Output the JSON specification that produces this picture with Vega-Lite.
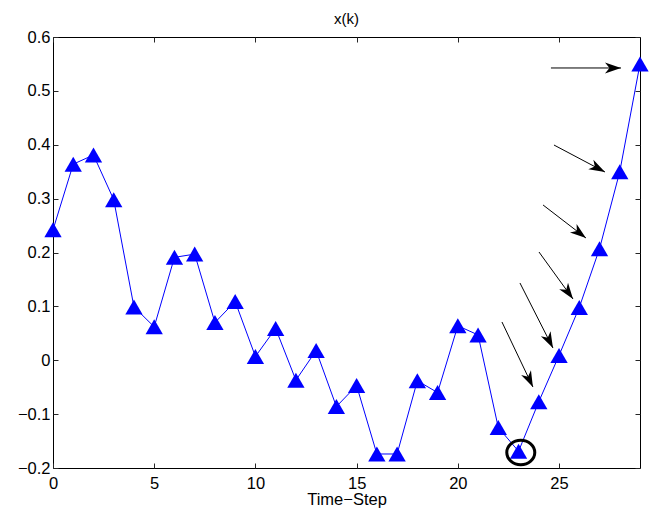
{
  "$schema": "https://vega.github.io/schema/vega-lite/v6.json",
  "width": 587,
  "height": 431,
  "autosize": "none",
  "padding": {"left": 53, "top": 37, "right": 12, "bottom": 46},
  "background": "white",
  "config": {
    "view": {"stroke": "black", "strokeWidth": 1},
    "font": "Liberation Sans",
    "axis": {
      "grid": false,
      "domain": false,
      "tickSize": -5,
      "tickColor": "#262626",
      "tickWidth": 1,
      "labelFont": "Liberation Sans",
      "labelFontSize": 16.5,
      "labelColor": "black",
      "labelFlush": false,
      "titleFont": "Liberation Sans",
      "titleFontSize": 16.5,
      "titleFontWeight": "normal",
      "titleColor": "black"
    }
  },
  "title": {"text": "x(k)", "fontSize": 15, "fontWeight": "normal", "font": "Liberation Sans", "color": "black", "offset": 2},
  "datasets": {
    "series": [
      {"k": 0, "x": 0.242}, {"k": 1, "x": 0.364}, {"k": 2, "x": 0.381}, {"k": 3, "x": 0.298},
      {"k": 4, "x": 0.099}, {"k": 5, "x": 0.062}, {"k": 6, "x": 0.191}, {"k": 7, "x": 0.197},
      {"k": 8, "x": 0.070}, {"k": 9, "x": 0.109}, {"k": 10, "x": 0.007}, {"k": 11, "x": 0.059},
      {"k": 12, "x": -0.037}, {"k": 13, "x": 0.018}, {"k": 14, "x": -0.086}, {"k": 15, "x": -0.047},
      {"k": 16, "x": -0.174}, {"k": 17, "x": -0.174}, {"k": 18, "x": -0.038}, {"k": 19, "x": -0.060},
      {"k": 20, "x": 0.064}, {"k": 21, "x": 0.047}, {"k": 22, "x": -0.125}, {"k": 23, "x": -0.169},
      {"k": 24, "x": -0.077}, {"k": 25, "x": 0.009}, {"k": 26, "x": 0.098}, {"k": 27, "x": 0.207},
      {"k": 28, "x": 0.350}, {"k": 29, "x": 0.550}
    ],
    "arrows": [
      {"x1": 24.60, "y1": 0.5425, "x2": 28.06, "y2": 0.5425},
      {"x1": 24.75, "y1": 0.3995, "x2": 27.27, "y2": 0.3494},
      {"x1": 24.21, "y1": 0.2882, "x2": 26.33, "y2": 0.2269},
      {"x1": 24.01, "y1": 0.2009, "x2": 25.69, "y2": 0.1137},
      {"x1": 23.07, "y1": 0.1434, "x2": 24.70, "y2": 0.0227},
      {"x1": 22.18, "y1": 0.0710, "x2": 23.71, "y2": -0.0497}
    ],
    "highlight": [{"k": 23.11, "x": -0.1712}]
  },
  "layer": [
    {
      "data": {"name": "series"},
      "mark": {"type": "line", "color": "#0000ff", "strokeWidth": 1},
      "encoding": {
        "x": {
          "field": "k", "type": "quantitative",
          "scale": {"domain": [0, 29], "nice": false, "zero": false},
          "axis": {"orient": "bottom", "values": [0, 5, 10, 15, 20, 25], "labelPadding": 12, "title": "Time−Step", "titlePadding": 0}
        },
        "y": {
          "field": "x", "type": "quantitative",
          "scale": {"domain": [-0.2, 0.6], "nice": false, "zero": false},
          "axis": {"orient": "left", "values": [-0.2, -0.1, 0, 0.1, 0.2, 0.3, 0.4, 0.5, 0.6], "labelPadding": 8, "title": null,
                   "labelExpr": "datum.value == 0 ? '0' : format(datum.value, '.1f')"}
        }
      }
    },
    {
      "data": {"name": "series"},
      "mark": {"type": "point", "shape": "triangle-up", "filled": true, "color": "#0000ff", "opacity": 1, "size": 300},
      "encoding": {
        "x": {"field": "k", "type": "quantitative",
              "axis": {"orient": "top", "values": [0, 5, 10, 15, 20, 25], "labels": false, "title": null}},
        "y": {"field": "x", "type": "quantitative",
              "axis": {"orient": "right", "values": [-0.2, -0.1, 0, 0.1, 0.2, 0.3, 0.4, 0.5, 0.6], "labels": false, "title": null}}
      }
    },
    {
      "data": {"name": "arrows"},
      "mark": {"type": "rule", "color": "black", "strokeWidth": 1},
      "encoding": {
        "x": {"field": "x1", "type": "quantitative", "axis": null},
        "y": {"field": "y1", "type": "quantitative", "axis": null},
        "x2": {"field": "x2"},
        "y2": {"field": "y2"}
      }
    },
    {
      "data": {"name": "arrows"},
      "transform": [
        {"calculate": "atan2(-(datum.y2 - datum.y1) * 431 / 0.8, (datum.x2 - datum.x1) * 587 / 29) * 180 / PI", "as": "dir"}
      ],
      "mark": {"type": "point", "shape": "M0,0 L-1,-0.34 L-0.72,0 L-1,0.34 Z", "filled": true, "color": "black", "opacity": 1, "size": 1024},
      "encoding": {
        "x": {"field": "x2", "type": "quantitative", "axis": null},
        "y": {"field": "y2", "type": "quantitative", "axis": null},
        "angle": {"field": "dir", "type": "quantitative", "scale": null}
      }
    },
    {
      "data": {"name": "highlight"},
      "mark": {"type": "point", "shape": "M-1,0 A1,0.87 0 1,0 1,0 A1,0.87 0 1,0 -1,0 Z", "filled": false, "stroke": "black", "strokeWidth": 3, "opacity": 1, "size": 784},
      "encoding": {
        "x": {"field": "k", "type": "quantitative", "axis": null},
        "y": {"field": "x", "type": "quantitative", "axis": null}
      }
    }
  ],
  "resolve": {"axis": {"x": "independent", "y": "independent"}}
}
